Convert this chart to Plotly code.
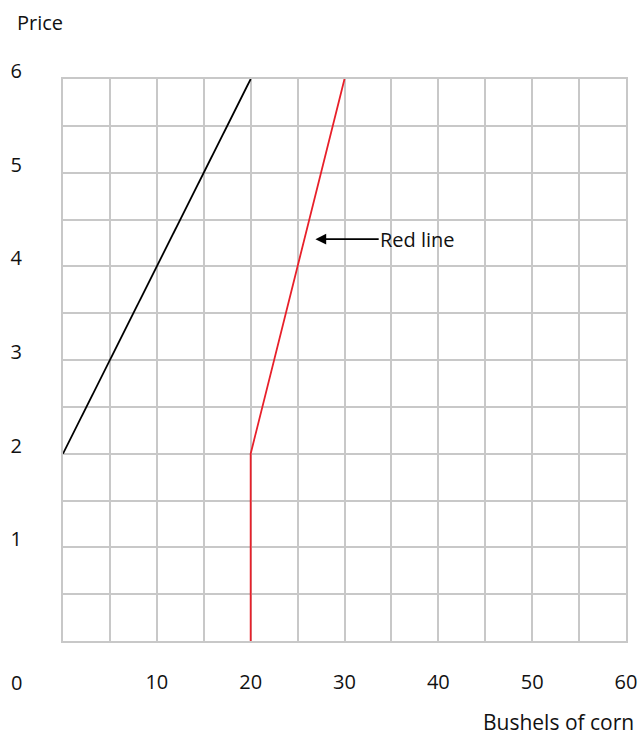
import plotly.graph_objects as go

# Data
black_x = [0, 20]
black_y = [2, 6]
red_x = [20, 20, 30]
red_y = [0, 2, 6]
x_ticks = [10, 20, 30, 40, 50, 60]
y_ticks = [1, 2, 3, 4, 5, 6]
arrow_head = (26.9, 4.29)
arrow_label_pos = (37.8, 4.29)

FONT = "Open Sans"
FS = 20
GRID = "#c8c8c8"

fig = go.Figure()
fig.add_trace(go.Scatter(x=black_x, y=black_y, mode="lines",
                         line=dict(color="black", width=1.8), showlegend=False, hoverinfo="skip"))
fig.add_trace(go.Scatter(x=red_x, y=red_y, mode="lines",
                         line=dict(color="#e8202a", width=1.8), showlegend=False, hoverinfo="skip"))

fig.update_layout(
    width=641, height=736,
    margin=dict(l=63, r=15, t=79, b=95, autoexpand=False),
    plot_bgcolor="white", paper_bgcolor="white",
    font=dict(family=FONT, size=FS, color="#111"),
    xaxis=dict(range=[0, 60], tickvals=x_ticks, ticktext=[str(v) for v in x_ticks],
               showgrid=True, gridcolor=GRID, gridwidth=2,
               minor=dict(dtick=5, showgrid=True, gridcolor=GRID, gridwidth=2),
               showline=True, mirror=True, linecolor=GRID, linewidth=2,
               zeroline=False, ticks="", ticklabelstandoff=22, automargin=False,
               fixedrange=True),
    yaxis=dict(range=[0, 6], tickvals=y_ticks, ticktext=[str(v) for v in y_ticks],
               showgrid=True, gridcolor=GRID, gridwidth=2,
               minor=dict(dtick=0.5, showgrid=True, gridcolor=GRID, gridwidth=2),
               showline=True, mirror=True, linecolor=GRID, linewidth=2,
               zeroline=False, ticks="", ticklabelstandoff=35, ticklabelshift=-8,
               automargin=False, fixedrange=True),
)

# Corner "0" label
fig.add_annotation(xref="paper", yref="paper", x=(16 - 63) / 563, y=(641 - 682) / 562,
                   text="0", showarrow=False, xanchor="center", yanchor="middle",
                   font=dict(family=FONT, size=FS))
# Axis titles
fig.add_annotation(xref="paper", yref="paper", x=(40 - 63) / 563, y=(641 - 22) / 562,
                   text="Price", showarrow=False, xanchor="center", yanchor="middle",
                   font=dict(family=FONT, size=FS))
fig.add_annotation(xref="paper", yref="paper", x=(558 - 63) / 563, y=(641 - 722) / 562,
                   text="Bushels of corn", showarrow=False, xanchor="center", yanchor="middle",
                   font=dict(family=FONT, size=21))
# Red line label with arrow
fig.add_annotation(x=arrow_head[0], y=arrow_head[1], ax=arrow_label_pos[0], ay=arrow_label_pos[1],
                   axref="x", ayref="y", text="Red line", showarrow=True,
                   arrowhead=2, arrowsize=1.2, arrowwidth=1.8, arrowcolor="black",
                   font=dict(family=FONT, size=FS))

fig.write_html("out.html", config={"displayModeBar": False},
               post_script="document.body.style.margin='0';document.body.style.overflow='hidden';")
